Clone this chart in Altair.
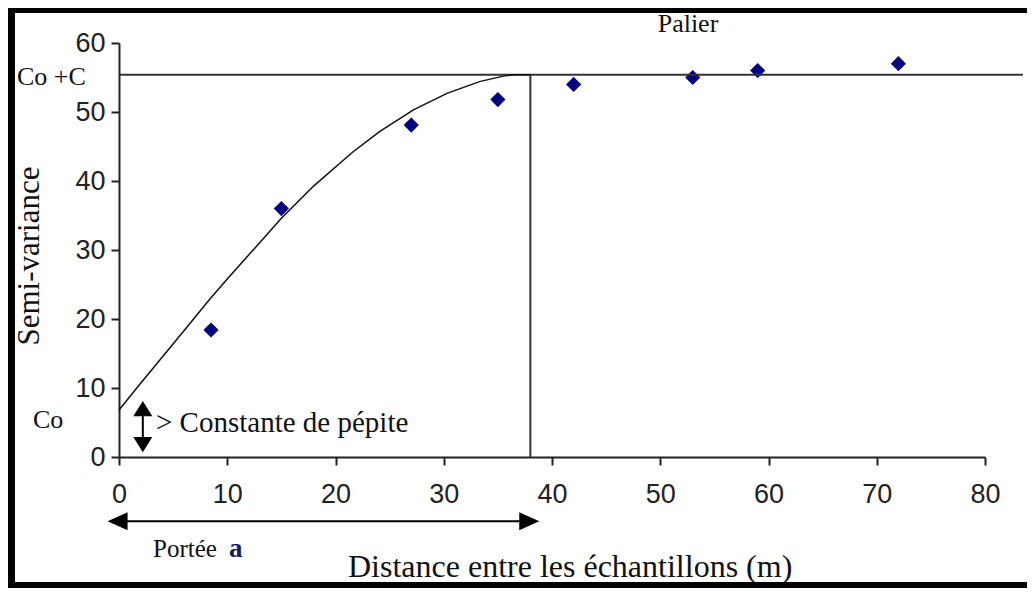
import altair as alt
import pandas as pd

# ---- data ----
lag = [8.5, 15.0, 27.0, 35.0, 42.0, 53.0, 59.0, 72.0]
semivar = [18.4, 36.0, 48.1, 51.8, 54.0, 55.0, 56.0, 57.0]

model_lag = [0, 2, 4, 6, 8.4, 10, 12, 15, 18, 21.6, 24.1, 27.2, 30.3, 33.3, 35.5, 36.6, 38]
model_gamma = [6.8, 10.7, 14.5, 18.3, 22.9, 25.8, 29.3, 34.6, 39.3, 44.2, 47.2, 50.3, 52.7, 54.4, 55.2, 55.4, 55.4]

sill = 55.4          # Co + C
range_a = 38.0       # portée a
nugget = 6.8         # Co
sill_end = 83.5

x_ticks = [0, 10, 20, 30, 40, 50, 60, 70, 80]
y_ticks = [0, 10, 20, 30, 40, 50, 60]

SERIF = "Liberation Serif"
TICKFONT = "Liberation Sans Narrow, Liberation Sans"

xs = alt.Scale(domain=[0, 80], nice=False, zero=False)
ys = alt.Scale(domain=[0, 60], nice=False, zero=False)

x_axis = alt.Axis(values=x_ticks, title=None, grid=False, tickSize=8, tickWidth=2,
                  domainWidth=2, domainColor="#222", tickColor="#222",
                  labelFont=TICKFONT, labelFontSize=27, labelColor="#222",
                  labelPadding=16, labelFlush=False)
y_axis = alt.Axis(values=y_ticks, title=None, grid=False, tickSize=8, tickWidth=2,
                  domainWidth=2, domainColor="#222", tickColor="#222",
                  labelFont=TICKFONT, labelFontSize=27, labelColor="#222",
                  labelPadding=6, labelFlush=False)

def X():
    return alt.X("x:Q", scale=xs, axis=x_axis)

def Y():
    return alt.Y("y:Q", scale=ys, axis=y_axis)

pts = pd.DataFrame({"x": lag, "y": semivar})
model = pd.DataFrame({"x": model_lag, "y": model_gamma})

points = alt.Chart(pts).mark_point(shape="diamond", filled=True, size=230, color="#000080", opacity=1).encode(
    x=X(), y=Y())

curve = alt.Chart(model).mark_line(color="#111", strokeWidth=1.5).encode(x=X(), y=Y())

sill_df = pd.DataFrame({"x": [0.0], "x2": [sill_end], "y": [sill]})
sill_rule = alt.Chart(sill_df).mark_rule(color="#333", strokeWidth=2).encode(x=X(), x2="x2:Q", y=Y())

range_df = pd.DataFrame({"x": [range_a], "y": [0.0], "y2": [sill]})
range_rule = alt.Chart(range_df).mark_rule(color="#333", strokeWidth=2).encode(x=X(), y=Y(), y2="y2:Q")

# nugget double arrow (vertical)
nug_x = 2.2
nug_shaft = pd.DataFrame({"x": [nug_x], "y": [1.8], "y2": [7.0]})
nug_line = alt.Chart(nug_shaft).mark_rule(color="black", strokeWidth=2).encode(x=X(), y=Y(), y2="y2:Q")
nug_up = alt.Chart(pd.DataFrame({"x": [nug_x], "y": [7.0]})).mark_point(
    shape="M0,-0.8L1,0.8L-1,0.8Z", filled=True, size=361, color="black", opacity=1).encode(x=X(), y=Y())
nug_down = alt.Chart(pd.DataFrame({"x": [nug_x], "y": [1.8]})).mark_point(
    shape="M0,0.8L1,-0.8L-1,-0.8Z", filled=True, size=361, color="black", opacity=1).encode(x=X(), y=Y())

# range double arrow (horizontal, below axis)
arr_y = -9.3
rng_shaft = pd.DataFrame({"x": [-0.13], "x2": [37.9], "y": [arr_y]})
rng_line = alt.Chart(rng_shaft).mark_rule(color="black", strokeWidth=2).encode(x=X(), x2="x2:Q", y=Y())
rng_left = alt.Chart(pd.DataFrame({"x": [-0.13], "y": [arr_y]})).mark_point(
    shape="M-1,0L1,-0.9L1,0.9Z", filled=True, size=400, color="black", opacity=1).encode(x=X(), y=Y())
rng_right = alt.Chart(pd.DataFrame({"x": [37.9], "y": [arr_y]})).mark_point(
    shape="M1,0L-1,-0.9L-1,0.9Z", filled=True, size=400, color="black", opacity=1).encode(x=X(), y=Y())

one = pd.DataFrame({"k": [0]})

def label(text, px, py, size, align="left", baseline="alphabetic", angle=0, font=SERIF, color="#111", weight="normal"):
    kw = dict(text=text, align=align, baseline=baseline, fontSize=size, font=font, color=color, fontWeight=weight)
    if angle:
        kw["angle"] = angle
    return alt.Chart(one).mark_text(**kw).encode(x=alt.value(px), y=alt.value(py))

texts = [
    label("Palier", 569, -11, 26, align="center"),
    label("Co +C", -102, 34, 26, baseline="middle"),
    label("Co", -86, 377, 26, baseline="middle"),
    label("Semi-variance", -89, 213, 31, align="center", baseline="middle", angle=270),
    label("> Constante de pépite", 37, 389, 29),
    label("Portée", 34, 514, 25),
    label("a", 110, 514, 27, color="#1a1a60", weight="bold"),
    label("Distance entre les échantillons (m)", 229, 534, 32),
]

def bar(x1, x2, y1, y2):
    return alt.Chart(one).mark_rect(color="black").encode(
        x=alt.value(x1), x2=alt.value(x2), y=alt.value(y1), y2=alt.value(y2))

frame = [
    bar(-111, 908, -35, -30),   # top
    bar(-111, -104, -35, 545),  # left
    bar(-111, 908, 539, 545),   # bottom
]

chart = alt.layer(
    points, *frame, sill_rule, range_rule, curve, nug_line, nug_up, nug_down,
    rng_line, rng_left, rng_right, *texts
).properties(
    width=866, height=414, autosize="none",
    padding={"left": 111, "top": 35, "right": 42, "bottom": 131},
    background="white",
).configure_view(stroke=None)

chart.save("out.html", embed_options={"renderer": "svg", "actions": False})
